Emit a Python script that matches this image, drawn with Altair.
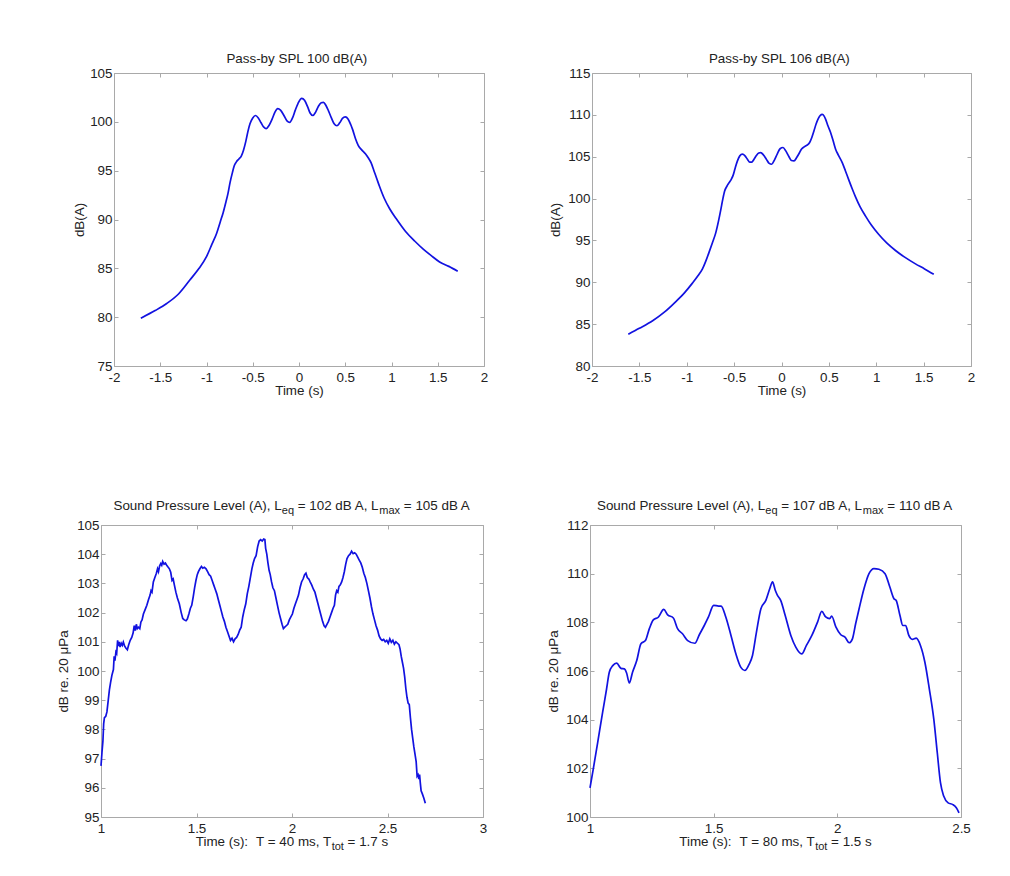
import altair as alt
import pandas as pd

# ---------------- data ----------------
tl_t = [-1.71, -1.55, -1.43, -1.30, -1.18, -1.08, -1.00, -0.94, -0.89, -0.85, -0.82, -0.79, -0.767, -0.745,
        -0.72, -0.70, -0.677, -0.65, -0.624, -0.60, -0.575, -0.55, -0.53, -0.50, -0.47, -0.44, -0.41, -0.38,
        -0.355, -0.33, -0.29, -0.26, -0.23, -0.20, -0.16, -0.13, -0.10, -0.07, -0.04, -0.01, 0.03, 0.06, 0.095,
        0.12, 0.15, 0.18, 0.21, 0.24, 0.265, 0.29, 0.32, 0.35, 0.38, 0.41, 0.44, 0.47, 0.50, 0.53, 0.56, 0.58,
        0.61, 0.64, 0.68, 0.72, 0.75, 0.78, 0.81, 0.84, 0.87, 0.92, 0.98, 1.05, 1.15, 1.25, 1.34, 1.43, 1.52,
        1.62, 1.716]
tl_db = [79.9, 80.7, 81.4, 82.4, 83.8, 85.0, 86.2, 87.5, 88.6, 89.8, 90.7, 91.8, 92.7, 93.8,
         94.8, 95.5, 95.9, 96.2, 96.5, 97.1, 98.0, 99.1, 99.8, 100.4, 100.65, 100.4, 99.9, 99.45,
         99.3, 99.55, 100.3, 101.0, 101.35, 101.2, 100.6, 100.1, 99.95, 100.4, 101.2, 101.9, 102.4, 102.2, 101.5,
         100.9, 100.65, 101.0, 101.6, 101.95, 102.0, 101.7, 101.1, 100.4, 99.8, 99.6, 99.9, 100.35, 100.5, 100.3, 99.7, 99.2,
         98.3, 97.6, 97.1, 96.7, 96.3, 95.8, 95.0, 94.2, 93.4, 92.2, 91.1, 90.1, 88.8, 87.8, 87.0, 86.3, 85.65,
         85.2, 84.7]

tr_t = [-1.617, -1.50, -1.36, -1.24, -1.115, -1.02, -0.94, -0.88, -0.834, -0.80, -0.764, -0.73, -0.694, -0.665,
        -0.64, -0.62, -0.60, -0.575, -0.553, -0.53, -0.51, -0.49, -0.465, -0.44, -0.413, -0.385, -0.36, -0.335,
        -0.314, -0.29, -0.265, -0.24, -0.219, -0.19, -0.16, -0.13, -0.104, -0.075, -0.044, -0.015, 0.016, 0.045,
        0.079, 0.105, 0.132, 0.16, 0.184, 0.21, 0.235, 0.265, 0.297, 0.32, 0.343, 0.365, 0.388, 0.41, 0.43, 0.45,
        0.465, 0.49, 0.518, 0.545, 0.571, 0.60, 0.641, 0.675, 0.711, 0.745, 0.781, 0.83, 0.887, 0.95, 1.027,
        1.11, 1.203, 1.30, 1.414, 1.51, 1.607]
tr_db = [83.8, 84.5, 85.4, 86.4, 87.7, 88.8, 89.9, 90.8, 91.6, 92.5, 93.6, 94.7, 95.9, 97.3,
         98.7, 99.9, 100.9, 101.5, 101.9, 102.3, 102.8, 103.6, 104.5, 105.1, 105.3, 105.1, 104.7, 104.35,
         104.35, 104.7, 105.15, 105.45, 105.5, 105.2, 104.7, 104.2, 104.1, 104.6, 105.35, 105.95, 106.1, 105.7,
         105.0, 104.55, 104.5, 104.9, 105.35, 105.9, 106.15, 106.35, 106.7, 107.3, 108.1, 108.9, 109.55, 109.95, 110.05, 109.85,
         109.5, 108.7, 107.9, 106.9, 105.9, 105.2, 104.3, 103.3, 102.2, 101.2, 100.2, 99.0, 97.9, 96.8, 95.7,
         94.7, 93.8, 93.0, 92.2, 91.6, 90.95]

bl_t = [1.000, 1.005, 1.010, 1.014, 1.018, 1.025, 1.031, 1.038, 1.044, 1.050, 1.057, 1.065, 1.069, 1.073,
        1.078, 1.082, 1.087, 1.091, 1.095, 1.100, 1.106, 1.112, 1.117, 1.124, 1.131, 1.138, 1.145, 1.153,
        1.161, 1.168, 1.174, 1.179, 1.185, 1.190, 1.196, 1.203, 1.209, 1.215, 1.222, 1.231, 1.240, 1.249,
        1.257, 1.262, 1.267, 1.274, 1.282, 1.290, 1.296, 1.301, 1.307, 1.313, 1.318, 1.323, 1.330, 1.337,
        1.344, 1.352, 1.358, 1.365, 1.372, 1.378, 1.384, 1.392, 1.400, 1.410, 1.420, 1.428, 1.436, 1.445,
        1.452, 1.460, 1.468, 1.475, 1.483, 1.490, 1.497, 1.504, 1.510, 1.518, 1.526, 1.533, 1.541, 1.550,
        1.558, 1.566, 1.574, 1.582, 1.590, 1.598, 1.606, 1.614, 1.622, 1.630, 1.638, 1.646, 1.654, 1.662,
        1.670, 1.678, 1.686, 1.694, 1.702, 1.710, 1.718, 1.726, 1.734, 1.742, 1.750, 1.758, 1.766, 1.774,
        1.782, 1.790, 1.797, 1.804, 1.812, 1.820, 1.828, 1.836, 1.844, 1.852, 1.858, 1.862, 1.868, 1.874,
        1.880, 1.886, 1.893, 1.900, 1.908, 1.916, 1.924, 1.932, 1.940, 1.948, 1.955, 1.962, 1.970, 1.978,
        1.986, 1.994, 2.002, 2.010, 2.018, 2.026, 2.034, 2.042, 2.050, 2.058, 2.066, 2.073, 2.080, 2.088,
        2.095, 2.103, 2.112, 2.120, 2.128, 2.136, 2.144, 2.152, 2.160, 2.168, 2.175, 2.183, 2.191, 2.199,
        2.207, 2.215, 2.222, 2.228, 2.234, 2.240, 2.246, 2.253, 2.260, 2.267, 2.274, 2.281, 2.288, 2.296,
        2.304, 2.312, 2.320, 2.328, 2.336, 2.344, 2.352, 2.360, 2.368, 2.376, 2.384, 2.392, 2.400, 2.408,
        2.416, 2.424, 2.432, 2.440, 2.448, 2.456, 2.464, 2.472, 2.480, 2.488, 2.496, 2.504, 2.512, 2.520,
        2.528, 2.536, 2.544, 2.552, 2.560, 2.566, 2.572, 2.578, 2.584, 2.590, 2.596, 2.602, 2.608, 2.614,
        2.620, 2.626, 2.632, 2.638, 2.644, 2.650, 2.655, 2.660, 2.664, 2.668, 2.672, 2.676, 2.682, 2.690,
        2.698]
bl_db = [96.75, 97.2, 97.6, 98.2, 98.4, 98.45, 98.6, 99.0, 99.35, 99.6, 99.85, 100.05, 100.5, 100.35,
         100.65, 100.6, 101.05, 100.85, 101.0, 100.82, 100.95, 100.88, 100.99, 100.85, 100.78, 100.73, 100.9, 101.05,
         101.15, 101.3, 101.55, 101.38, 101.6, 101.45, 101.5, 101.45, 101.68, 101.75, 101.95, 102.1, 102.25, 102.45,
         102.6, 102.75, 102.7, 103.05, 103.2, 103.35, 103.5, 103.4, 103.6, 103.68, 103.62, 103.75, 103.66, 103.7,
         103.62, 103.55, 103.5, 103.38, 103.1, 103.15, 102.95, 102.7, 102.5, 102.3, 102.0, 101.8, 101.75, 101.72,
         101.78, 101.95, 102.15, 102.25, 102.55, 102.85, 103.1, 103.3, 103.4, 103.5, 103.58, 103.52, 103.55, 103.5,
         103.4, 103.3, 103.25, 103.1, 102.95, 102.8, 102.65, 102.45, 102.25, 102.05, 101.85, 101.7, 101.5, 101.35,
         101.2, 101.05, 101.12, 101.0, 101.1, 101.15, 101.25, 101.4, 101.5, 101.85, 102.1, 102.3, 102.65, 102.9,
         103.2, 103.5, 103.7, 103.85, 103.95, 104.25, 104.45, 104.5, 104.45, 104.52, 104.5, 104.2, 104.0, 103.7,
         103.45, 103.3, 103.05, 102.85, 102.75, 102.5, 102.25, 102.0, 101.8, 101.6, 101.45, 101.5, 101.55, 101.6,
         101.75, 101.85, 101.95, 102.15, 102.3, 102.45, 102.6, 102.85, 103.05, 103.15, 103.3, 103.35, 103.2, 103.15,
         103.05, 102.95, 102.8, 102.7, 102.5, 102.3, 102.1, 101.9, 101.7, 101.55, 101.5, 101.6, 101.7, 101.85,
         102.0, 102.15, 102.25, 102.6, 102.75, 102.7, 102.9, 102.95, 103.05, 103.2, 103.4, 103.65, 103.85, 103.95,
         104.0, 104.1, 104.02, 104.05, 104.0, 103.9, 103.8, 103.7, 103.55, 103.35, 103.2, 103.0, 102.75, 102.5,
         102.2, 101.95, 101.75, 101.55, 101.4, 101.2, 101.1, 101.05, 101.08, 101.0, 101.05, 100.95, 101.1, 100.98,
         101.05, 100.92, 101.0, 100.95, 100.9, 100.75, 100.5, 100.3, 100.1, 99.8, 99.4, 99.1, 98.9, 98.85,
         98.4, 98.0, 97.7, 97.4, 97.15, 96.9, 96.4, 96.45, 96.3, 96.45, 96.15, 95.9, 95.8, 95.65,
         95.47]

br_t = [1.000, 1.013, 1.031, 1.051, 1.067, 1.078, 1.092, 1.108, 1.125, 1.139, 1.148, 1.159, 1.172, 1.189,
        1.206, 1.224, 1.240, 1.256, 1.277, 1.298, 1.314, 1.337, 1.354, 1.374, 1.395, 1.424, 1.442, 1.462,
        1.479, 1.500, 1.520, 1.530, 1.549, 1.570, 1.590, 1.610, 1.626, 1.644, 1.657, 1.673, 1.691, 1.711,
        1.727, 1.738, 1.749, 1.758, 1.771, 1.789, 1.812, 1.832, 1.856, 1.875, 1.897, 1.920, 1.937, 1.953,
        1.969, 1.977, 1.994, 2.014, 2.031, 2.048, 2.061, 2.074, 2.088, 2.108, 2.128, 2.148, 2.168, 2.193,
        2.212, 2.229, 2.238, 2.253, 2.265, 2.276, 2.289, 2.303, 2.319, 2.336, 2.354, 2.372, 2.390, 2.404,
        2.417, 2.430, 2.448, 2.467, 2.481, 2.492]
br_db = [101.2, 101.96, 103.06, 104.3, 105.26, 105.95, 106.22, 106.32, 106.11, 106.09, 105.92, 105.51, 105.95, 106.43,
         107.12, 107.25, 107.74, 108.1, 108.22, 108.53, 108.31, 108.18, 107.74, 107.53, 107.25, 107.14, 107.49, 107.87,
         108.22, 108.7, 108.67, 108.67, 108.22, 107.46, 106.7, 106.15, 106.02, 106.29, 106.64, 107.6, 108.56, 108.9,
         109.39, 109.66, 109.32, 109.11, 108.9, 108.29, 107.46, 106.98, 106.7, 107.05, 107.46, 108.01, 108.45, 108.22,
         108.15, 108.26, 107.81, 107.49, 107.39, 107.16, 107.32, 107.94, 108.56, 109.39, 110.0, 110.21, 110.18, 110.0,
         109.46, 108.97, 108.9, 108.29, 107.87, 107.87, 107.46, 107.3, 107.35, 107.05, 106.36, 105.26, 104.02, 102.65,
         101.41, 100.86, 100.58, 100.51, 100.38, 100.17]

# tick values
tl_xticks = [-2, -1.5, -1, -0.5, 0, 0.5, 1, 1.5, 2]
tl_yticks = [75, 80, 85, 90, 95, 100, 105]
tr_xticks = [-2, -1.5, -1, -0.5, 0, 0.5, 1, 1.5, 2]
tr_yticks = [80, 85, 90, 95, 100, 105, 110, 115]
bl_xticks = [1, 1.5, 2, 2.5, 3]
bl_yticks = [95, 96, 97, 98, 99, 100, 101, 102, 103, 104, 105]
br_xticks = [1, 1.5, 2, 2.5]
br_yticks = [100, 102, 104, 106, 108, 110, 112]

# ---------------- style ----------------
FONT = "Liberation Sans"
FS = 13.4
SUB = 11
LINE = "#1212e0"
GREY = "#a9a9a9"
TXT = "#222222"
TICK = 4

AW = {" ": 278, "(": 333, ")": 333, ",": 278, ".": 278, ":": 278, "=": 584,
      "A": 667, "B": 667, "L": 556, "P": 667, "S": 667, "T": 611,
      "a": 556, "d": 556, "e": 556, "i": 222, "l": 222, "m": 833, "n": 556, "o": 556,
      "q": 556, "r": 333, "s": 500, "t": 278, "u": 556, "v": 500, "x": 500}
ONE = pd.DataFrame({"k": [0]})


def tw(s, size):
    return sum(AW.get(c, 556) for c in s) * size / 1000.0


def text_run(segs, cx, y):
    """segs: list of (text, is_subscript). Returns text marks centred on cx."""
    total = sum(tw(s, SUB if sub else FS) for s, sub in segs)
    x = cx - total / 2.0
    out = []
    for s, sub in segs:
        size = SUB if sub else FS
        lead = len(s) - len(s.lstrip(" "))
        out.append(
            alt.Chart(ONE).mark_text(align="left", baseline="alphabetic", font=FONT,
                                     fontSize=size, color=TXT).encode(
                x=alt.value(x + tw(" " * lead, size)),
                y=alt.value(y + (4 if sub else 0)),
                text=alt.value(s.strip()))
        )
        x += tw(s, size)
    return out


LABEL_EXPR = "replace(format(datum.value, '~g'), '\u2212', '-')"
BASE = dict(grid=False, labelFont=FONT, labelFontSize=FS, labelColor=TXT,
            titleFont=FONT, titleFontSize=FS, titleFontWeight="normal", titleColor=TXT,
            domainColor=GREY, tickColor=GREY, labelFlush=False, labelOverlap=False)


def frame_axis(orient, values, off, labels=False, title=None, pad=0, tp=0):
    kw = dict(BASE, orient=orient, values=values, offset=off, domain=True, ticks=False,
              tickSize=0, labels=labels)
    if labels:
        kw.update(labelExpr=LABEL_EXPR, labelPadding=pad, titlePadding=tp)
    return alt.Axis(title=title, **kw) if title else alt.Axis(title=None, **kw)


def tick_axis(orient, values, off):
    return alt.Axis(title=None, orient=orient, values=values, offset=off - TICK, domain=False,
                    ticks=True, tickSize=TICK, labels=False, **BASE)


def panel(t, db, xdom, ydom, xt, yt, W, H, ytitle, ytp, title_segs, title_y,
          xtitle=None, xtitle_segs=None, interp="monotone", xoff=0):
    df = pd.DataFrame({"t": t, "db": db})
    xs = alt.Scale(domain=xdom, nice=False, zero=False, range=[xoff, xoff + W])
    ys = alt.Scale(domain=ydom, nice=False, zero=False)
    line = alt.Chart(df).mark_line(color=LINE, strokeWidth=1.7, interpolate=interp).encode(
        x=alt.X("t:Q", scale=xs, axis=frame_axis("bottom", xt, 0, True, xtitle, 4, 0)),
        y=alt.Y("db:Q", scale=ys, axis=frame_axis("left", yt, -xoff, True, ytitle, 2, ytp)),
    )
    g1 = alt.Chart(df).mark_line(strokeOpacity=0).encode(
        x=alt.X("t:Q", scale=xs, axis=frame_axis("top", xt, 0)),
        y=alt.Y("db:Q", scale=ys, axis=frame_axis("right", yt, 0)),
    )
    g2 = alt.Chart(df).mark_line(strokeOpacity=0).encode(
        x=alt.X("t:Q", scale=xs, axis=tick_axis("bottom", xt, 0)),
        y=alt.Y("db:Q", scale=ys, axis=tick_axis("left", yt, -xoff)),
    )
    g3 = alt.Chart(df).mark_line(strokeOpacity=0).encode(
        x=alt.X("t:Q", scale=xs, axis=tick_axis("top", xt, 0)),
        y=alt.Y("db:Q", scale=ys, axis=tick_axis("right", yt, 0)),
    )
    cx = xoff + W / 2.0
    layers = [line, g1, g2, g3] + text_run(title_segs, cx, title_y)
    if xtitle_segs:
        layers += text_run(xtitle_segs, cx, H + 29)
    return alt.layer(*layers).resolve_axis(x="independent", y="independent").properties(
        width=W + xoff, height=H)


tl = panel(tl_t, tl_db, [-2, 2], [75, 105], tl_xticks, tl_yticks, 370, 293,
           "dB(A)", 3, [("Pass-by SPL 100 dB(A)", False)], -10,
           xtitle="Time (s)", xoff=13)
tr = panel(tr_t, tr_db, [-2, 2], [80, 115], tr_xticks, tr_yticks, 379, 293,
           "dB(A)", 5, [("Pass-by SPL 106 dB(A)", False)], -10.5,
           xtitle="Time (s)")
bl = panel(bl_t, bl_db, [1, 3], [95, 105], bl_xticks, bl_yticks, 382, 292,
           "dB re. 20 \u03bcPa", 6.5,
           [("Sound Pressure Level (A), L", False), ("eq", True), (" = 102 dB A, L", False),
            ("max", True), (" = 105 dB A", False)], -15,
           xtitle_segs=[("Time (s):", False), ("  T = 40 ms, T", False), ("tot", True),
                        (" = 1.7 s", False)], interp="linear")
br = panel(br_t, br_db, [1, 2.5], [100, 112], br_xticks, br_yticks, 371, 292,
           "dB re. 20 \u03bcPa", 4.7,
           [("Sound Pressure Level (A), L", False), ("eq", True), (" = 107 dB A, L", False),
            ("max", True), (" = 110 dB A", False)], -15,
           xtitle_segs=[("Time (s):", False), ("  T = 80 ms, T", False), ("tot", True),
                        (" = 1.5 s", False)])

chart = alt.vconcat(
    alt.hconcat(tl, tr, spacing=60),
    alt.hconcat(bl, br, spacing=59),
    spacing=102,
).properties(
    padding={"left": 48, "top": 43, "right": 5, "bottom": 5},
    background="white",
).configure_view(
    strokeWidth=0
)

chart.save("out.html", embed_options={"renderer": "svg", "actions": False})
